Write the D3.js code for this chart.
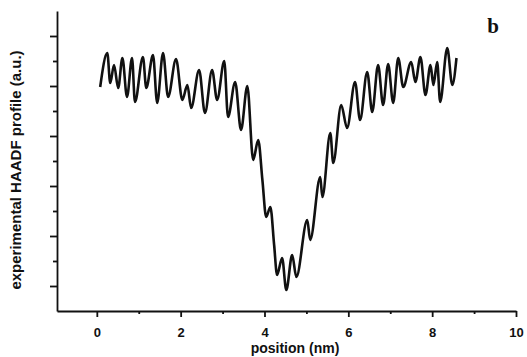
<!DOCTYPE html>
<html>
<head>
<meta charset="utf-8">
<script src="https://cdn.jsdelivr.net/npm/d3@7"></script>
<style>
  body { margin: 0; background: #fff; }
  svg { display: block; }
</style>
</head>
<body>
<svg id="chart" width="527" height="357"></svg>
<script>
// profile: position (nm) and intensity (a.u.)
const positions = [0.08, 0.25, 0.32, 0.41, 0.51, 0.61, 0.72, 0.84, 0.91, 1.10, 1.18, 1.34, 1.44, 1.58, 1.70,
  1.89, 2.04, 2.16, 2.25, 2.44, 2.58, 2.75, 2.87, 3.04, 3.13, 3.30, 3.44, 3.59, 3.73, 3.85, 3.95, 4.04,
  4.14, 4.23, 4.30, 4.42, 4.52, 4.66, 4.76, 5.02, 5.09, 5.33, 5.38, 5.57, 5.64, 5.83, 5.97, 6.16, 6.28,
  6.45, 6.57, 6.71, 6.83, 6.95, 7.07, 7.19, 7.31, 7.50, 7.60, 7.72, 7.84, 7.96, 8.03, 8.12, 8.19, 8.36,
  8.48, 8.58];
const intensity = [8.96, 10.32, 9.12, 9.84, 8.92, 10.12, 8.56, 10.12, 8.36, 10.16, 8.92, 10.24, 8.32, 10.32, 8.56,
  10.08, 8.44, 9.04, 8.12, 9.64, 7.92, 9.64, 8.44, 10.00, 7.76, 9.16, 7.24, 9.00, 6.04, 6.84, 5.24, 3.76,
  4.16, 2.64, 1.44, 2.12, 0.84, 2.24, 1.36, 3.64, 2.84, 5.36, 4.56, 7.12, 5.92, 8.24, 7.32, 9.16, 7.64,
  9.56, 7.96, 9.84, 8.24, 9.88, 8.32, 10.12, 8.96, 9.96, 9.16, 10.16, 8.64, 9.84, 9.04, 9.96, 8.36, 10.52,
  9.04, 10.12];
const xTicks = [0, 1, 2, 3, 4, 5, 6, 7, 8, 9, 10];
const yTicks = [1, 2, 3, 4, 5, 6, 7, 8, 9, 10, 11];

const svg = d3.select("#chart");

const x = d3.scaleLinear().domain([-0.95, 10]).range([57, 516]);
const y = d3.scaleLinear().domain([0, 12]).range([311, 11]);

// x axis: labelled even ticks, short odd ones
const xAxis = svg.append("g")
  .attr("transform", "translate(0,311)")
  .call(d3.axisBottom(x).tickValues(xTicks).tickSize(5).tickSizeOuter(0)
    .tickFormat(d => d % 2 === 0 ? d : ""));
xAxis.selectAll(".tick line").attr("y2", d => d % 2 === 0 ? 6 : 3);

// y axis: no labels
const yAxis = svg.append("g")
  .attr("transform", "translate(57,0)")
  .call(d3.axisLeft(y).tickValues(yTicks).tickSizeOuter(0).tickFormat(""));
yAxis.selectAll(".tick line").attr("x2", d => d % 2 === 1 ? -7 : -4);

svg.selectAll(".domain, .tick line").attr("stroke", "#111").attr("stroke-width", 1.8);
xAxis.selectAll(".tick text")
  .attr("dy", null).attr("y", 26)
  .style("font-family", "Liberation Sans, Arial, sans-serif")
  .style("font-weight", "bold")
  .style("font-size", "13px")
  .attr("fill", "#111");

// the profile
const line = d3.line()
  .x((d, i) => x(positions[i]))
  .y(d => y(d))
  .curve(d3.curveMonotoneX);

svg.append("path")
  .datum(intensity)
  .attr("d", line)
  .attr("fill", "none")
  .attr("stroke", "#111")
  .attr("stroke-width", 2.6)
  .attr("stroke-linejoin", "round");

// labels
svg.append("text")
  .attr("x", 295).attr("y", 353)
  .attr("text-anchor", "middle")
  .style("font-family", "Liberation Sans, Arial, sans-serif")
  .style("font-weight", "bold")
  .style("font-size", "14px")
  .attr("fill", "#111")
  .text("position (nm)");

svg.append("text")
  .attr("transform", "translate(21,170) rotate(-90)")
  .attr("text-anchor", "middle")
  .style("font-family", "Liberation Sans, Arial, sans-serif")
  .style("font-weight", "bold")
  .style("font-size", "15px")
  .attr("fill", "#111")
  .text("experimental HAADF profile (a.u.)");

svg.append("text")
  .attr("x", 493).attr("y", 33)
  .attr("text-anchor", "middle")
  .style("font-family", "Liberation Serif, Times New Roman, serif")
  .style("font-weight", "bold")
  .style("font-size", "21px")
  .attr("fill", "#111")
  .text("b");
</script>
</body>
</html>
